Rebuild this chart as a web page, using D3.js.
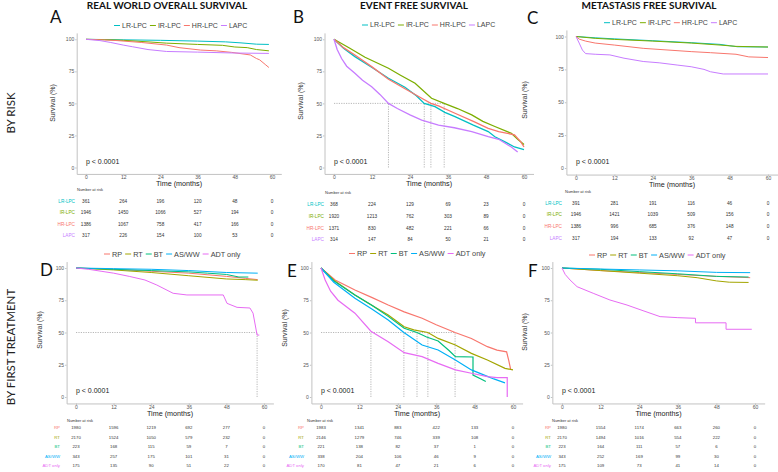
<!DOCTYPE html>
<html>
<head>
<meta charset="utf-8">
<script src="https://cdn.jsdelivr.net/npm/d3@7"></script>
<style>
    body { margin: 0; background: #fff; }
    svg { display: block; font-family: "Liberation Sans", Arial, sans-serif; }
    .axis path, .axis line { stroke: #c2c2c2; stroke-width: 1; }
    .axis text { fill: #555; font-size: 5px; font-family: "Liberation Sans", Arial, sans-serif; }
</style>
</head>
<body>
<div id="chart"></div>
<script>
// Shared ticks and groups
var timeTicks = [0, 12, 24, 36, 48, 60];
var survTicks = [0, 25, 50, 75, 100];
var riskGroups = ["LR-LPC", "IR-LPC", "HR-LPC", "LAPC"];
var riskColors = ["#00BFC4", "#7CAE00", "#F8766D", "#C77CFF"];
var treatGroups = ["RP", "RT", "BT", "AS/WW", "ADT only"];
var treatColors = ["#F8766D", "#A3A500", "#00BF7D", "#00B0F6", "#E76BF3"];

// Curves: [month, survival %]
// A - overall survival by risk
var osLR = [[0,100],[6,99.8],[12,99.6],[24,99.2],[36,98.6],[45,98],[50,97.2],[55,96.2],[59,96]];
var osIR = [[0,100],[6,99.7],[12,99.2],[20,98],[26,97],[36,96],[44,95.3],[48,94],[52,93.5],[55,92],[59,91]];
var osHR = [[0,100],[6,99.5],[10,99],[18,97.5],[26,95.5],[30,93.5],[37,91.6],[42,91],[47,89.8],[53,87.8],[55,85],[56,84],[58,80],[59,78]];
var osLAPC = [[0,100],[4.5,99],[8,97.5],[12,95.5],[15,94.2],[20,92],[26,90.5],[36,90],[48,89.3],[59,89]];

// B - event free survival by risk
var efsLR = [[0,100],[3,93],[6.6,86.5],[12,78],[17.2,69.6],[22.4,62.6],[26,56],[28.5,50],[31.9,47.5],[35,43],[38.2,39.7],[44,33],[48.7,28],[50.8,24],[54,20],[57,16],[60,14]];
var efsIR = [[0,100],[5,93],[9.8,86],[17.2,77.4],[21,72],[25.6,65.7],[30.8,54],[34.8,50],[39,46],[43.5,41],[47,36],[50.8,32],[56,26.7],[58,22],[60,18]];
var efsHR = [[0,100],[3,93.5],[6.6,87.8],[12,78.5],[17.2,68.8],[22,62],[27.7,54],[30.6,50],[33,48],[38.2,42.3],[44,36],[48.7,30.6],[52,28],[57,25.5],[59,20],[60,16]];
var efsLAPC = [[0,100],[1,92],[2.4,85],[4,79],[6.6,73.5],[9,68],[11.9,63],[14.5,57],[17.2,50],[20,46],[24,41],[27.7,37],[33,33],[38,31],[43.5,28],[48.7,24],[52,22],[56,16],[58,12]];
var efsRiskMedians = [28.5, 34.8, 30.6, 17.2];

// C - metastasis free survival by risk
var mfsLR = [[0,100],[6,99],[12,98.2],[24,96.8],[36,95.3],[45,94],[48,93],[50.5,92.2],[60,92]];
var mfsIR = [[0,100],[6,98.6],[12,97.8],[24,96.5],[36,95],[45,93.5],[50,92.5],[60,92]];
var mfsHR = [[0,100],[1,98],[3,96.5],[6,95],[12,93.5],[21,91],[30,89.5],[36,88.5],[42,87.7],[50,86.5],[54,84.5],[60,84]];
var mfsLAPC = [[0,100],[1,95],[2,89.7],[3,87],[6,86.5],[10.6,86],[15,83.5],[21,81],[26,80],[31.6,78.3],[36,77],[40,75],[42,73.2],[46,71.5],[60,71.5]];

// D - overall survival by first treatment
var osRP = [[0,100],[12,99],[24,97.5],[36,96],[48,93.5],[54,92],[58,91]];
var osRT = [[0,100],[12,98.5],[24,96.5],[36,94],[48,91.5],[54,91],[58,90.5]];
var osBT = [[0,100],[12,99],[24,98],[36,97],[42,96],[48,95],[52,93],[55,93]];
var osASWW = [[0,100],[12,99.5],[24,99],[36,98],[48,96.5],[58,96]];
var osADT = [[0,100],[4,99],[8,97.5],[12,96],[17,93.5],[22,90.7],[25.8,86.8],[31,80.4],[35.4,79.1],[47,79.1],[48.2,72.6],[51.4,69.5],[55.5,69],[56.5,65],[57.8,48],[58.5,48]];
var osTreatMedians = [null, null, null, null, 57.8];

// E - event free survival by first treatment
var efsRP = [[0,100],[4.4,90.7],[10.6,83],[16,77],[21,71.3],[26,66],[31.6,61],[36,56],[41.9,50],[47,45.4],[52,39],[55,36.4],[58,35],[58.7,28],[59.3,21]];
var efsRT = [[0,100],[4,90.5],[10.6,79],[16,71],[21,63.6],[26,54.5],[29,52],[33.4,50],[36.6,45.4],[42,40.3],[47,33.8],[52,28.7],[57.5,22.2],[60,21]];
var efsBT = [[0,100],[4,90],[10.6,79],[16,71],[21,62.5],[26,53.3],[30,50],[33,46.5],[36.6,43.4],[40,36],[42,31.3],[47.5,31],[47.5,17],[50,14],[51.5,12]];
var efsASWW = [[0,100],[4,89],[10.6,76.5],[16,68],[21,59.7],[25.9,50],[31.6,40.3],[36.6,36.4],[42,28.7],[47,21],[52,16],[54,14],[57.5,11]];
var efsADT = [[0,100],[1.3,90.7],[3,82],[5.3,75],[10.6,65],[15.6,51],[21,42.9],[26,34.4],[31.6,31.3],[36.6,26.1],[42,21],[47,18.4],[52,15.8],[55,15],[58.2,15],[58.2,0]];
var efsTreatMedians = [41.9, 33.4, 30, 25.9, 15.6];

// F - metastasis free survival by first treatment
var mfsRP = [[0,100],[12,98],[24,96.5],[36,95],[48,93.5],[58.5,92.5]];
var mfsRT = [[0,100],[12,98],[24,96],[36,94],[42,92.5],[48,90],[52,89],[58,88.8]];
var mfsBT = [[0,100],[12,99],[24,97.2],[36,95.5],[48,93.5],[58,93]];
var mfsASWW = [[0,100],[12,99.2],[24,98.5],[36,97.8],[48,96.6],[58.5,96.4]];
var mfsADT = [[0,100],[1,95],[2.5,90.7],[4.7,85.5],[9.7,80.4],[14.9,75.2],[20.2,71.3],[25.2,66.9],[30.5,62.3],[36,61.5],[41.5,61],[41.5,57.5],[51,57.5],[51,52.5],[59,52.5]];

// Number at risk tables (rows = groups, cols = timeTicks)
var osRiskTable = [[361,264,196,120,48,0],[1946,1450,1066,527,194,0],[1386,1067,758,417,166,0],[317,226,154,100,53,0]];
var efsRiskTable = [[368,224,129,69,23,0],[1920,1213,762,303,89,0],[1371,830,482,221,66,0],[314,147,84,50,21,0]];
var mfsRiskTable = [[391,281,191,116,46,0],[1946,1421,1039,509,156,0],[1386,996,685,376,148,0],[317,194,133,92,47,0]];
var osTreatTable = [[1980,1596,1219,692,277,0],[2170,1524,1050,579,232,0],[223,168,115,59,7,0],[343,257,175,101,31,0],[175,135,90,51,22,0]];
var efsTreatTable = [[1983,1341,883,422,133,0],[2146,1279,746,339,108,0],[221,138,82,37,1,0],[338,204,106,46,9,0],[170,81,47,21,6,0]];
var mfsTreatTable = [[1980,1554,1174,663,260,0],[2170,1494,1016,554,222,0],[223,164,111,57,6,0],[343,252,169,99,30,0],[175,109,73,41,14,0]];

// Panel layout
var topRows = [201, 212.5, 224, 235.5];
var botRows = [427, 437, 446.5, 456, 465];
var panels = [
    { letter: "A", lx: 50, ly: 23, title: "REAL WORLD OVERALL SURVIVAL", tx: 167,
      groups: riskGroups, colors: riskColors, curves: [osLR, osIR, osHR, osLAPC], table: osRiskTable, medians: null,
      x0: 86, x60: 272, y100: 39.3, y0: 167.5, legX: 117, legY: 25.5, legSize: 7, ytX: 55, ytY: 103,
      headX: 77, headY: 190, labEnd: 75, rows: topRows, tabSize: 4.7, lw: 1 },
    { letter: "B", lx: 293, ly: 23, title: "EVENT FREE SURVIVAL", tx: 414,
      groups: riskGroups, colors: riskColors, curves: [efsLR, efsIR, efsHR, efsLAPC], table: efsRiskTable, medians: efsRiskMedians,
      x0: 334, x60: 524, y100: 39.3, y0: 167.5, legX: 365, legY: 25, legSize: 7, ytX: 303, ytY: 101,
      headX: 325, headY: 193, labEnd: 324, rows: [204, 216, 228, 239.5], tabSize: 4.7, lw: 1.3 },
    { letter: "C", lx: 527, ly: 24, title: "METASTASIS FREE SURVIVAL", tx: 649,
      groups: riskGroups, colors: riskColors, curves: [mfsLR, mfsIR, mfsHR, mfsLAPC], table: mfsRiskTable, medians: null,
      x0: 576, x60: 768, y100: 36.5, y0: 168, legX: 607, legY: 22.7, legSize: 7, ytX: 527, ytY: 100,
      headX: 565, headY: 192, labEnd: 562, rows: [203, 214.5, 226, 238.5], tabSize: 4.7, lw: 1 },
    { letter: "D", lx: 40, ly: 276, title: null,
      groups: treatGroups, colors: treatColors, curves: [osRP, osRT, osBT, osASWW, osADT], table: osTreatTable, medians: osTreatMedians,
      x0: 76, x60: 264, y100: 268, y0: 397, legX: 107, legY: 254, legSize: 7.3, ytX: 42, ytY: 330,
      headX: 67, headY: 421, labEnd: 60, rows: botRows, tabSize: 4.3, lw: 1 },
    { letter: "E", lx: 287, ly: 277, title: null,
      groups: treatGroups, colors: treatColors, curves: [efsRP, efsRT, efsBT, efsASWW, efsADT], table: efsTreatTable, medians: efsTreatMedians,
      x0: 321, x60: 513, y100: 268, y0: 397, legX: 352, legY: 253.5, legSize: 7.3, ytX: 287, ytY: 328,
      headX: 307, headY: 421, labEnd: 304, rows: botRows, tabSize: 4.3, lw: 1.2 },
    { letter: "F", lx: 528, ly: 277, title: null,
      groups: treatGroups, colors: treatColors, curves: [mfsRP, mfsRT, mfsBT, mfsASWW, mfsADT], table: mfsTreatTable, medians: null,
      x0: 562, x60: 755, y100: 268, y0: 397, legX: 592, legY: 255, legSize: 7.3, ytX: 527, ytY: 332,
      headX: 552, headY: 421, labEnd: 551, rows: botRows, tabSize: 4.3, lw: 1 }
];

// Define svg canvas
var svg = d3.select("#chart").append("svg")
    .attr("width", 778)
    .attr("height", 472);

svg.append("rect").attr("width", 778).attr("height", 472).attr("fill", "#fff");

// Row labels on the far left
svg.append("text")
    .attr("transform", "translate(14.5,113) rotate(-90)")
    .attr("text-anchor", "middle")
    .style("font-family", "Lato, 'Open Sans', sans-serif")
    .style("font-size", "11.5px")
    .style("fill", "#222")
    .text("BY RISK");

svg.append("text")
    .attr("transform", "translate(14.5,347) rotate(-90)")
    .attr("text-anchor", "middle")
    .style("font-family", "Lato, 'Open Sans', sans-serif")
    .style("font-size", "11.5px")
    .style("fill", "#222")
    .text("BY FIRST TREATMENT");

function drawPanel(p) {
    var g = svg.append("g").attr("class", "panel-" + p.letter);

    // Define scales (axes get the 5% ggplot expansion)
    var x = d3.scaleLinear().domain([0, 60]).range([p.x0, p.x60]);
    var y = d3.scaleLinear().domain([0, 100]).range([p.y0, p.y100]);
    var xa = d3.scaleLinear().domain([-3, 63]).range([x(-3), x(63)]);
    var ya = d3.scaleLinear().domain([-5, 105]).range([y(-5), y(105)]);

    // Title and panel letter
    if (p.title) {
        g.append("text")
            .attr("x", p.tx).attr("y", 8.5)
            .attr("text-anchor", "middle")
            .style("font-family", "Lato, 'Open Sans', sans-serif")
            .style("font-weight", "bold")
            .style("font-size", "10px")
            .style("fill", "#111")
            .text(p.title);
    }
    g.append("text")
        .attr("x", p.lx).attr("y", p.ly)
        .style("font-family", "Lato, 'Open Sans', sans-serif")
        .style("font-size", "17px")
        .style("fill", "#111")
        .text(p.letter);

    // Place the axes
    g.append("g")
        .attr("class", "axis")
        .attr("transform", "translate(0," + ya(-5) + ")")
        .call(d3.axisBottom(xa).tickValues(timeTicks).tickSize(1.5).tickSizeOuter(0).tickPadding(0.5));

    g.append("g")
        .attr("class", "axis")
        .attr("transform", "translate(" + xa(-3) + ",0)")
        .call(d3.axisLeft(ya).tickValues(survTicks).tickSize(1.5).tickSizeOuter(0).tickPadding(1));

    // Axis titles
    g.append("text")
        .attr("transform", "translate(" + p.ytX + "," + p.ytY + ") rotate(-90)")
        .attr("text-anchor", "middle")
        .style("font-size", "7px")
        .style("fill", "#333")
        .text("Survival (%)");

    g.append("text")
        .attr("x", x(30)).attr("y", ya(-5) + 10)
        .attr("dy", "0.35em")
        .attr("text-anchor", "middle")
        .style("font-size", "7.2px")
        .style("fill", "#222")
        .text("Time (months)");

    // Median survival guides
    if (p.medians) {
        var meds = p.medians.filter(function (m) { return m !== null; });
        g.append("line")
            .attr("x1", x(0)).attr("x2", x(d3.max(meds)))
            .attr("y1", y(50)).attr("y2", y(50))
            .attr("stroke", "#888").attr("stroke-width", 0.6)
            .attr("stroke-dasharray", "1.2,1.2");
        g.selectAll(".median")
            .data(meds)
            .enter().append("line")
            .attr("class", "median")
            .attr("x1", function (d) { return x(d); })
            .attr("x2", function (d) { return x(d); })
            .attr("y1", y(0)).attr("y2", y(50))
            .attr("stroke", "#888").attr("stroke-width", 0.6)
            .attr("stroke-dasharray", "1.2,1.2");
    }

    // Define lines
    var line = d3.line()
        .x(function (d) { return x(d[0]); })
        .y(function (d) { return y(d[1]); });

    g.selectAll(".curve")
        .data(p.curves)
        .enter().append("path")
        .attr("class", "curve")
        .attr("fill", "none")
        .attr("d", function (d) { return line(d); })
        .style("stroke", function (d, i) { return p.colors[i]; })
        .style("stroke-width", p.lw);

    // p-value
    g.append("text")
        .attr("x", x(0)).attr("y", y(5))
        .attr("dy", "0.35em")
        .style("font-size", "7px")
        .style("fill", "#222")
        .text("p < 0.0001");

    // Legend
    var lx = p.legX;
    p.groups.forEach(function (name, i) {
        g.append("line")
            .attr("x1", lx - 3).attr("x2", lx + 3)
            .attr("y1", p.legY).attr("y2", p.legY)
            .attr("stroke", p.colors[i]).attr("stroke-width", 1);
        var t = g.append("text")
            .attr("x", lx + 5).attr("y", p.legY)
            .attr("dy", "0.35em")
            .style("font-size", p.legSize + "px")
            .style("fill", "#444")
            .text(name);
        lx = lx + 5 + t.node().getComputedTextLength() + 6;
    });

    // Number at risk table
    g.append("text")
        .attr("x", p.headX).attr("y", p.headY)
        .attr("dy", "0.35em")
        .style("font-size", "4px")
        .style("fill", "#333")
        .text("Number at risk");

    p.table.forEach(function (row, i) {
        g.append("text")
            .attr("x", p.labEnd).attr("y", p.rows[i])
            .attr("dy", "0.35em")
            .attr("text-anchor", "end")
            .style("font-size", p.tabSize + "px")
            .style("fill", p.colors[i])
            .text(p.groups[i]);
        g.selectAll(".n" + i)
            .data(row)
            .enter().append("text")
            .attr("class", "n" + i)
            .attr("x", function (d, j) { return x(timeTicks[j]); })
            .attr("y", p.rows[i])
            .attr("dy", "0.35em")
            .attr("text-anchor", "middle")
            .style("font-size", p.tabSize + "px")
            .style("fill", "#333")
            .text(function (d) { return d; });
    });
}

panels.forEach(drawPanel);
</script>
</body>
</html>
